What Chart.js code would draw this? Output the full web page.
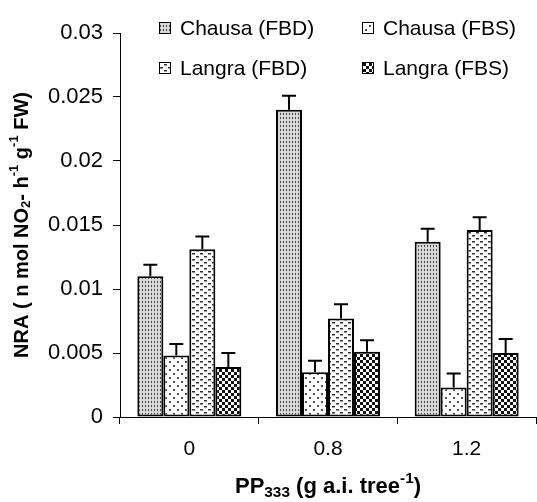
<!DOCTYPE html>
<html lang="en">

<head>
  <meta charset="UTF-8">
  <title>NRA chart</title>
  <script src="https://cdn.jsdelivr.net/npm/chart.js"></script>
  <style>
    body {
      margin: 0;
      padding: 0;
      background: #fff;
    }

    #wrap {
      position: relative;
      width: 537px;
      height: 502px;
    }
  </style>
</head>

<body>
  <div id="wrap">
    <canvas id="chart"></canvas>
  </div>
  <script>
    // data
    const categories = ['0', '0.8', '1.2'];
    const seriesNames = ['Chausa (FBD)', 'Chausa (FBS)', 'Langra (FBD)', 'Langra (FBS)'];
    const chausaFBD = [0.0110, 0.0240, 0.0137];
    const chausaFBS = [0.0048, 0.0035, 0.0023];
    const langraFBD = [0.0131, 0.0077, 0.0146];
    const langraFBS = [0.0039, 0.0051, 0.0050];
    const chausaFBDErr = [0.0009, 0.0011, 0.0010];
    const chausaFBSErr = [0.0009, 0.0009, 0.0011];
    const langraFBDErr = [0.0010, 0.0011, 0.0010];
    const langraFBSErr = [0.0011, 0.0009, 0.0011];
    const yTickLabels = ['0', '0.005', '0.01', '0.015', '0.02', '0.025', '0.03'];

    const FONT = "'Liberation Sans', Arial, sans-serif";

    // fill patterns like the old excel hatches
    function makePattern(w, h, bg, dots) {
      const c = document.createElement('canvas');
      c.width = w;
      c.height = h;
      const x = c.getContext('2d');
      x.fillStyle = bg;
      x.fillRect(0, 0, w, h);
      dots.forEach(d => {
        x.fillStyle = d[4];
        x.fillRect(d[0], d[1], d[2], d[3]);
      });
      return x.createPattern(c, 'repeat');
    }

    const patterns = [
      makePattern(3, 4, '#d8d8d8', [[1, 1, 1, 2, '#444']]),
      makePattern(8, 8, '#fff', [[1, 1, 2, 2, '#555'], [5, 5, 2, 2, '#555']]),
      makePattern(8, 6, '#fff', [[0, 1, 3, 1.5, '#333'], [4, 4, 3, 1.5, '#333']]),
      makePattern(6, 6, '#fff', [[0, 0, 3, 3, '#111'], [3, 3, 3, 3, '#111']])
    ];

    const values = [chausaFBD, chausaFBS, langraFBD, langraFBS];
    const errors = [chausaFBDErr, chausaFBSErr, langraFBDErr, langraFBSErr];

    // upward error bars with caps
    const errorBars = {
      id: 'errorBars',
      afterDatasetsDraw(chart) {
        const ctx = chart.ctx;
        const y = chart.scales.y;
        ctx.save();
        ctx.strokeStyle = '#000';
        ctx.lineWidth = 2;
        chart.data.datasets.forEach((ds, i) => {
          chart.getDatasetMeta(i).data.forEach((bar, j) => {
            const top = y.getPixelForValue(ds.data[j] + errors[i][j]);
            ctx.beginPath();
            ctx.moveTo(bar.x, bar.y);
            ctx.lineTo(bar.x, top);
            ctx.moveTo(bar.x - 7, top);
            ctx.lineTo(bar.x + 7, top);
            ctx.stroke();
          });
        });
        ctx.restore();
      }
    };

    // text with sub / superscripts
    function richText(ctx, parts, size, small) {
      let w = 0;
      parts.forEach(p => {
        const s = p[1] ? size * small : size;
        ctx.font = `bold ${s}px ${FONT}`;
        w += ctx.measureText(p[0]).width;
      });
      let x = -w / 2;
      parts.forEach(p => {
        const s = p[1] ? size * small : size;
        ctx.font = `bold ${s}px ${FONT}`;
        let dy = 0;
        if (p[1] === 'sub') dy = size * 0.24;
        if (p[1] === 'sup') dy = -size * 0.36;
        ctx.fillText(p[0], x, dy);
        x += ctx.measureText(p[0]).width;
      });
    }

    const extras = {
      id: 'extras',
      afterDraw(chart) {
        const ctx = chart.ctx;
        const area = chart.chartArea;
        ctx.save();
        ctx.fillStyle = '#000';
        ctx.textBaseline = 'middle';
        ctx.textAlign = 'left';

        // y title
        ctx.save();
        ctx.translate(22, (area.top + area.bottom) / 2);
        ctx.rotate(-Math.PI / 2);
        richText(ctx, [['NRA ( n mol NO'], ['2', 'sub'], ['- h'], ['-1', 'sup'], [' g'], ['-1', 'sup'], [' FW)']], 20, 0.65);
        ctx.restore();

        // x title
        ctx.save();
        ctx.translate((area.left + area.right) / 2, 487);
        richText(ctx, [['PP'], ['333', 'sub'], [' (g a.i. tree'], ['-1', 'sup'], [')']], 22, 0.7);
        ctx.restore();

        // legend, two columns inside the plot
        const spots = [[159, 28], [362, 28], [159, 68], [362, 68]];
        seriesNames.forEach((name, i) => {
          const [bx, by] = spots[i];
          ctx.fillStyle = patterns[i];
          ctx.fillRect(bx, by - 6, 12, 12);
          ctx.strokeStyle = '#000';
          ctx.lineWidth = 1;
          ctx.strokeRect(bx + 0.5, by - 5.5, 11, 11);
          ctx.fillStyle = '#000';
          ctx.font = `21px ${FONT}`;
          ctx.fillText(name, bx + 21, by + 1);
        });
        ctx.restore();
      }
    };

    new Chart(document.getElementById('chart'), {
      type: 'bar',
      data: {
        labels: categories,
        datasets: seriesNames.map((name, i) => {
          return {
            label: name,
            data: values[i],
            backgroundColor: patterns[i],
            borderColor: '#000',
            borderWidth: 2,
            borderSkipped: false,
            categoryPercentage: 0.75,
            barPercentage: 1.0
          };
        })
      },
      options: {
        responsive: true,
        maintainAspectRatio: false,
        animation: false,
        layout: {
          padding: { top: 33, right: 1, left: 0, bottom: 0 }
        },
        plugins: {
          legend: { display: false },
          tooltip: { enabled: false }
        },
        scales: {
          x: {
            afterFit(scale) { scale.height = 85; },
            grid: {
              drawOnChartArea: false,
              drawTicks: true,
              tickLength: 7,
              color: '#000'
            },
            border: { color: '#000', width: 1 },
            ticks: {
              color: '#000',
              padding: 13,
              font: { family: FONT, size: 21 }
            }
          },
          y: {
            min: 0,
            max: 0.03,
            afterFit(scale) { scale.width = 120; },
            grid: {
              drawOnChartArea: false,
              drawTicks: true,
              tickLength: 7,
              color: '#000'
            },
            border: { color: '#000', width: 1 },
            ticks: {
              stepSize: 0.005,
              color: '#000',
              padding: 10,
              font: { family: FONT, size: 22 },
              callback: (v, i) => yTickLabels[i]
            }
          }
        }
      },
      plugins: [errorBars, extras]
    });
  </script>
</body>

</html>
